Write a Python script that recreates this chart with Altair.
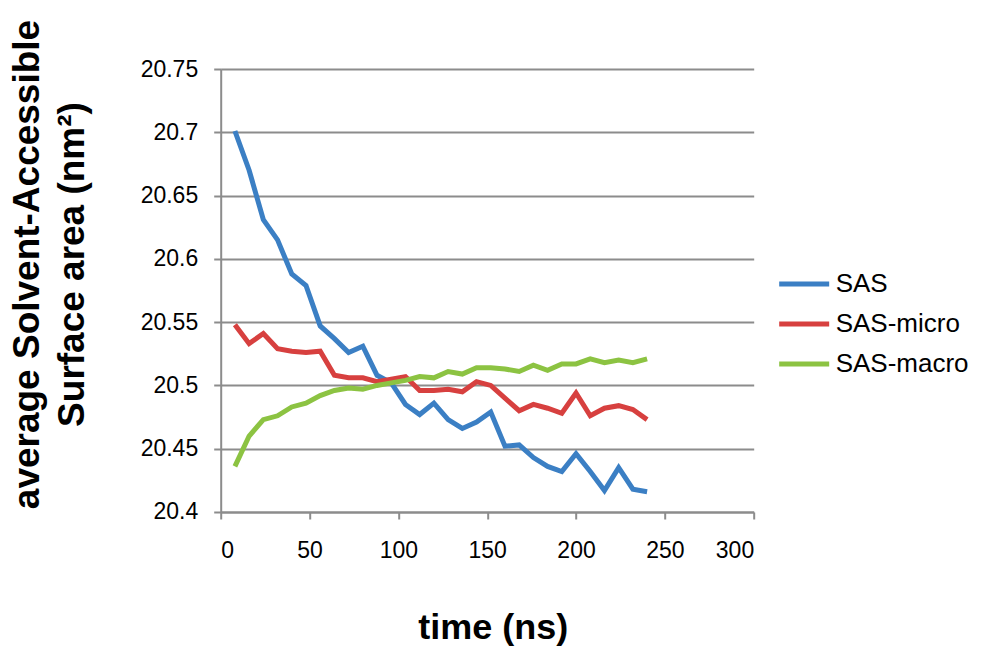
import altair as alt
import pandas as pd

time_ns = [8, 16, 24, 32, 40, 48, 56, 64, 72, 80, 88, 96, 104, 112, 120,
           128, 136, 144, 152, 160, 168, 176, 184, 192, 200, 208, 216, 224, 232, 240]

sas = [20.701, 20.670, 20.631, 20.615, 20.588, 20.579, 20.547, 20.537, 20.526, 20.531,
       20.508, 20.502, 20.485, 20.477, 20.486, 20.473, 20.466, 20.471, 20.479, 20.452,
       20.453, 20.443, 20.436, 20.432, 20.446, 20.432, 20.417, 20.435, 20.418, 20.416]

sas_micro = [20.548, 20.533, 20.541, 20.529, 20.527, 20.526, 20.527, 20.508, 20.506, 20.506,
             20.503, 20.505, 20.507, 20.496, 20.496, 20.497, 20.495, 20.503, 20.500, 20.490,
             20.480, 20.485, 20.482, 20.478, 20.494, 20.476, 20.482, 20.484, 20.481, 20.473]

sas_macro = [20.436, 20.460, 20.473, 20.476, 20.483, 20.486, 20.492, 20.496, 20.498, 20.497,
             20.500, 20.502, 20.504, 20.507, 20.506, 20.511, 20.509, 20.514, 20.514, 20.513,
             20.511, 20.516, 20.512, 20.517, 20.517, 20.521, 20.518, 20.520, 20.518, 20.521]

series_names = ["SAS", "SAS-micro", "SAS-macro"]
series_colors = ["#3b7fc4", "#d7403f", "#8cc342"]

x_ticks = [0, 50, 100, 150, 200, 250, 300]
y_ticks = [20.4, 20.45, 20.5, 20.55, 20.6, 20.65, 20.7, 20.75]

rows = []
for name, vals in zip(series_names, [sas, sas_micro, sas_macro]):
    for t, v in zip(time_ns, vals):
        rows.append({"time": t, "value": v, "series": name})
df = pd.DataFrame(rows)

FONT = "Liberation Sans"
GRID = "#8c8c8c"

chart = alt.Chart(df).mark_line(strokeWidth=5).encode(
    x=alt.X("time:Q",
            scale=alt.Scale(domain=[0, 300], nice=False),
            axis=alt.Axis(values=x_ticks, title="time (ns)", grid=False,
                          labelFontSize=23, labelPadding=32, labelBaseline="middle",
                          titleFontSize=36, titleFontWeight="bold",
                          titleBaseline="alphabetic", titleX=272, titleY=127,
                          tickSize=7)),
    y=alt.Y("value:Q",
            scale=alt.Scale(domain=[20.4, 20.75], zero=False, nice=False),
            axis=alt.Axis(values=y_ticks, format=".2~f",
                          title=["average Solvent-Accessible", "Surface area (nm\u00b2)"],
                          labelFontSize=23, labelPadding=16,
                          titleFontSize=37, titleFontWeight="bold",
                          titleAngle=270, titleAlign="center",
                          titleBaseline="alphabetic", titleLineHeight=45,
                          titleX=-182, titleY=195, tickSize=7)),
    color=alt.Color("series:N",
                    scale=alt.Scale(domain=series_names, range=series_colors),
                    sort=series_names,
                    legend=alt.Legend(title=None, orient="none", legendX=556, legendY=202,
                                      symbolType="stroke", symbolSize=2500,
                                      symbolStrokeWidth=5, labelFontSize=26,
                                      labelOffset=4, clipHeight=26, rowPadding=14,
                                      padding=0, labelColor="black")),
).properties(
    width=533, height=443,
    autosize=alt.AutoSizeParams(type="none"),
    padding={"left": 212.7, "top": 61, "right": 230, "bottom": 135},
).configure_view(stroke=None).configure_axis(
    labelFont=FONT, titleFont=FONT, labelColor="black", titleColor="black",
    gridColor=GRID, gridWidth=2, domainColor=GRID, domainWidth=2,
    tickColor=GRID, tickWidth=2,
).configure_legend(labelFont=FONT)

chart.save("out.html", embed_options={"renderer": "svg", "actions": False})
